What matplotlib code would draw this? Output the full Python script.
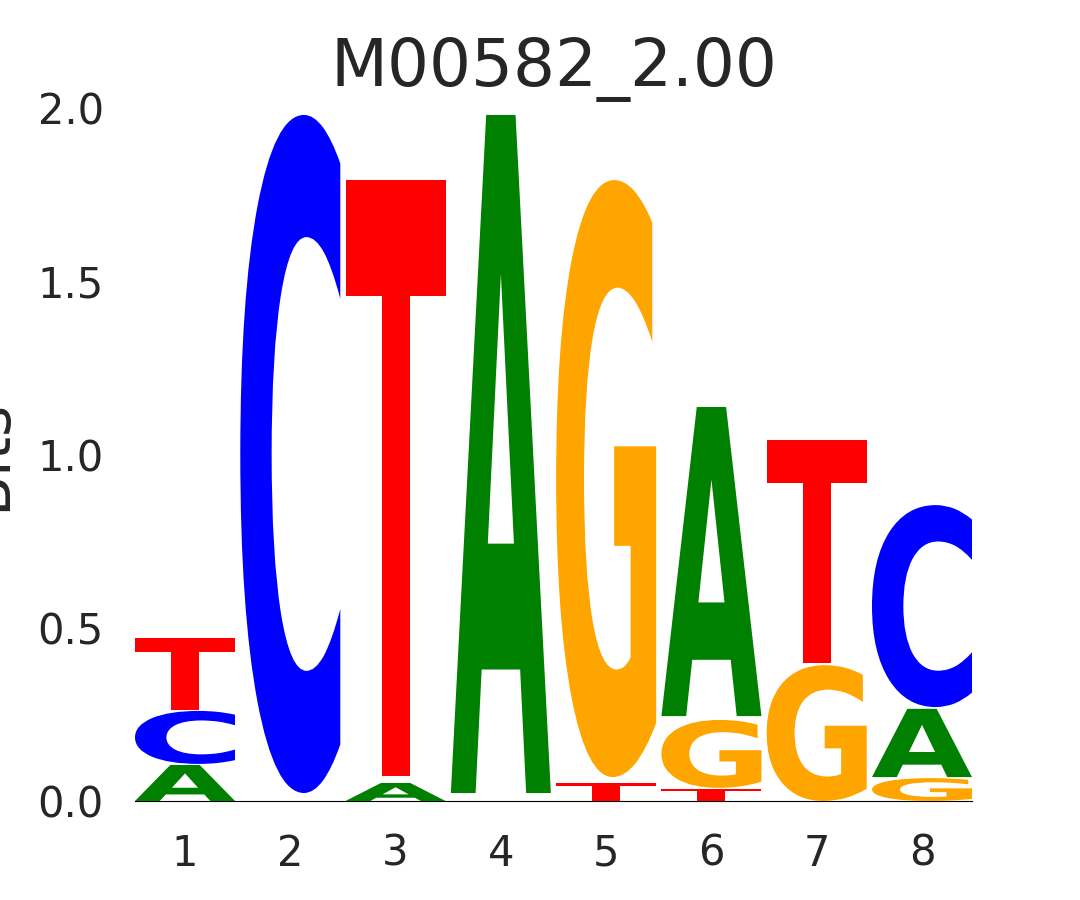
import matplotlib
matplotlib.use("Agg")
import matplotlib.pyplot as plt
from matplotlib.font_manager import FontProperties
from matplotlib.patches import PathPatch
from matplotlib.textpath import TextPath
from matplotlib.transforms import Affine2D

# letter stacks per position (bits)
positions = [1, 2, 3, 4, 5, 6, 7, 8]
letters = [["A", "C", "T"], ["C"], ["A", "T"], ["A"], ["T", "G"], ["T", "G", "A"], ["G", "T"], ["G", "A", "C"]]
floors = [[0.0, 0.107, 0.263], [0.023], [0.0, 0.072], [0.023], [0.0, 0.069], [0.0, 0.038, 0.245], [0.0, 0.398], [0.0, 0.069, 0.271]]
ceilings = [[0.104, 0.26, 0.47], [1.98], [0.052, 1.792], [1.98], [0.052, 1.792], [0.035, 0.234, 1.137], [0.392, 1.042], [0.066, 0.266, 0.854]]
yticks = [0.0, 0.5, 1.0, 1.5, 2.0]
title = "M00582_2.00"

colors = {"A": "#008000", "C": "#0000ff", "G": "#ffa500", "T": "#ff0000"}
glyph_font = FontProperties(family="DejaVu Sans", weight="bold")
letter_width = 0.95
text_color = "#262626"


def draw_letter(ax, char, x, bottom, top):
    path = TextPath((0, 0), char, size=1, prop=glyph_font)
    ext = path.get_extents()
    tf = (
        Affine2D()
        .translate(-ext.x0, -ext.y0)
        .scale(letter_width / ext.width, (top - bottom) / ext.height)
        .translate(x - letter_width / 2, bottom)
    )
    patch = PathPatch(tf.transform_path(path), facecolor=colors[char], edgecolor="none", linewidth=0)
    ax.add_patch(patch)


fig = plt.figure(figsize=(10.8, 9), dpi=100)
ax = fig.add_subplot(111)

for pos, chars, lo, hi in zip(positions, letters, floors, ceilings):
    for c, b, t in zip(chars, lo, hi):
        draw_letter(ax, c, pos, b, t)

ax.axhline(0, color="black", linewidth=0.8, clip_on=False, zorder=-1)
ax.set_xlim(positions[0] - letter_width / 2, positions[-1] + letter_width / 2)
ax.set_ylim(0, 2.0)

for s in ax.spines.values():
    s.set_visible(False)

ax.set_xticks(positions)
ax.set_xticklabels([str(p) for p in positions])
ax.set_yticks(yticks)
ax.set_yticklabels([f"{v:.1f}" for v in yticks])
ax.tick_params(axis="x", length=0, pad=23, labelsize=30, colors=text_color)
ax.tick_params(axis="y", length=0, pad=22.5, labelsize=30, colors=text_color)

ax.set_ylabel("Bits", fontsize=43, color=text_color, labelpad=14)
ax.set_title(title, fontsize=47.5, color=text_color, pad=16)

fig.savefig("out.png", dpi=100)
